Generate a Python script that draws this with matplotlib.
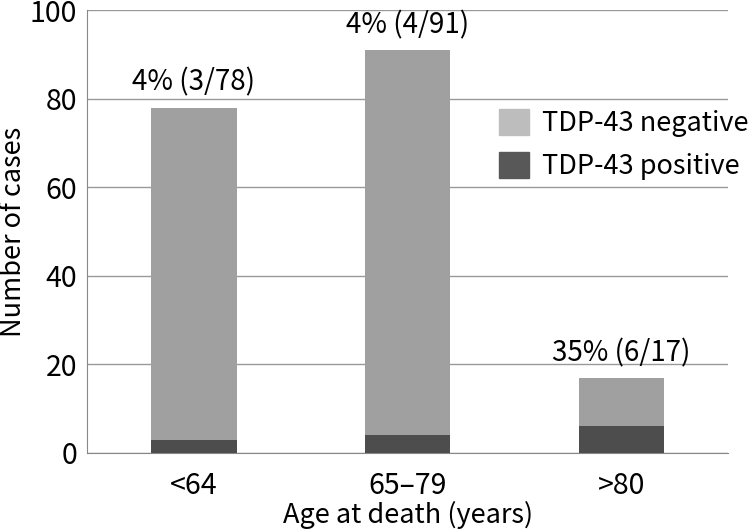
import matplotlib
matplotlib.use("Agg")
import matplotlib.pyplot as plt
from matplotlib.patches import Patch

plt.rcParams['font.family'] = ['Noto Sans CJK JP', 'DejaVu Sans']

# data
groups = ['<64', '65\u201379', '>80']
positive = [3, 4, 6]
totals = [78, 91, 17]
negative = [t - p for t, p in zip(totals, positive)]
labels = ['4% (3/78)', '4% (4/91)', '35% (6/17)']

fig = plt.figure(figsize=(7.5, 5.31), dpi=100)
ax = fig.add_axes([0.116, 0.147, 0.855, 0.834])

x = range(len(groups))
ax.bar(x, positive, width=0.4, color='#4d4d4d', zorder=3)
ax.bar(x, negative, width=0.4, bottom=positive, color='#a0a0a0', zorder=3)

for xi, t, lab in zip(x, totals, labels):
    ax.text(xi, t + 2.2, lab, ha='center', va='bottom', fontsize=20)

ax.set_xlim(-0.5, 2.5)
ax.set_ylim(0, 100)
ax.set_yticks([0, 20, 40, 60, 80, 100])
ax.set_xticks(list(x))
ax.set_xticklabels(groups)
ax.tick_params(length=0, labelsize=20.5)
ax.tick_params(axis='x', pad=13)
ax.tick_params(axis='y', pad=7)
ax.grid(axis='y', color='#999999', linewidth=1, zorder=0)
for s in ['top', 'right']:
    ax.spines[s].set_visible(False)
for s in ['left', 'bottom']:
    ax.spines[s].set_color('#888888')

ax.set_xlabel('Age at death (years)', fontsize=19.5, labelpad=0)
ax.set_ylabel('Number of cases', fontsize=19.5)
ax.yaxis.set_label_coords(-0.094, 0.5)

handles = [Patch(color='#bdbdbd'), Patch(color='#585858')]
fig.legend(handles, ['TDP-43 negative', 'TDP-43 positive'], loc='upper left',
           bbox_to_anchor=(0.633, 0.841), frameon=False, fontsize=19.5,
           handlelength=1.1, handleheight=1.1, handletextpad=0.5, labelspacing=0.55)

fig.savefig('out.png', dpi=100)
